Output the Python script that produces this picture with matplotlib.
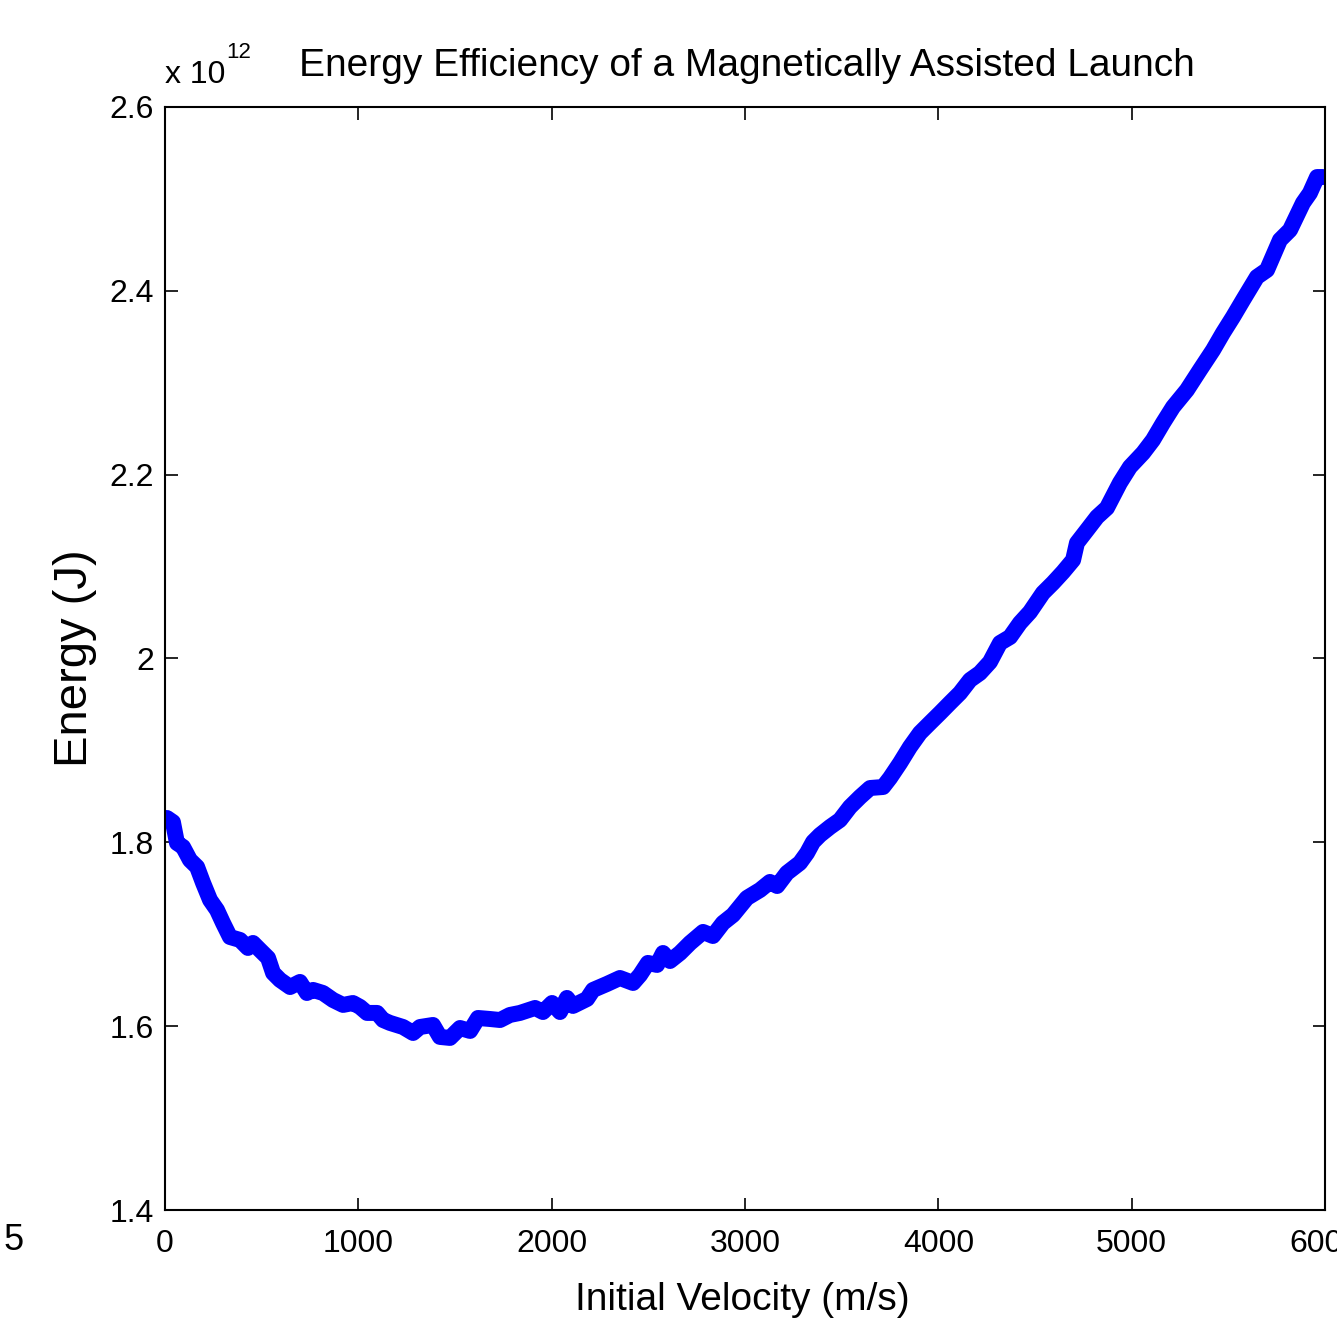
import numpy as np
import matplotlib
matplotlib.use("Agg")
import matplotlib.pyplot as plt

# velocity (m/s) and energy (x 1e12 J)
velocity = [10, 41, 62, 93, 129, 166, 197, 233, 269, 300, 336, 388, 429, 455, 491,
            533, 559, 595, 647, 698, 734, 766, 817, 869, 921, 972, 1009, 1045, 1097,
            1128, 1164, 1231, 1283, 1319, 1386, 1422, 1474, 1526, 1578, 1619, 1681,
            1733, 1784, 1836, 1914, 1955, 2002, 2043, 2079, 2110, 2183, 2214, 2286,
            2353, 2421, 2457, 2498, 2545, 2576, 2612, 2664, 2716, 2783, 2834, 2886,
            2938, 3010, 3078, 3129, 3166, 3217, 3284, 3321, 3352, 3388, 3440, 3491,
            3543, 3595, 3647, 3714, 3750, 3802, 3853, 3905, 3957, 4009, 4060, 4112,
            4164, 4215, 4267, 4319, 4371, 4422, 4474, 4541, 4593, 4645, 4697, 4717,
            4769, 4821, 4872, 4939, 4991, 5059, 5110, 5162, 5214, 5286, 5353, 5421,
            5472, 5524, 5576, 5648, 5700, 5767, 5819, 5886, 5922, 5959, 5990]
energy = [1.8265, 1.822, 1.7993, 1.795, 1.7808, 1.7732, 1.7558, 1.7373, 1.7264, 1.7123,
          1.697, 1.6938, 1.6851, 1.6905, 1.6829, 1.6742, 1.6579, 1.6503, 1.6426, 1.6481,
          1.6361, 1.6394, 1.6361, 1.6285, 1.6231, 1.6252, 1.6209, 1.6144, 1.6144, 1.6067,
          1.6035, 1.5991, 1.5926, 1.5991, 1.6013, 1.5883, 1.5872, 1.598, 1.5948, 1.6089,
          1.6078, 1.6067, 1.6122, 1.6144, 1.6198, 1.6154, 1.6252, 1.6154, 1.6307, 1.622,
          1.6296, 1.6394, 1.6459, 1.6524, 1.647, 1.6557, 1.6688, 1.6666, 1.6796, 1.6709,
          1.6796, 1.6905, 1.7025, 1.6981, 1.7123, 1.721, 1.7395, 1.7482, 1.7569, 1.7525,
          1.7667, 1.7776, 1.7884, 1.8004, 1.808, 1.8167, 1.8243, 1.8385, 1.8493, 1.8591,
          1.8602, 1.87, 1.8863, 1.9037, 1.919, 1.9299, 1.9407, 1.9516, 1.9625, 1.9766,
          1.9842, 1.9962, 2.0169, 2.0234, 2.0386, 2.0506, 2.0713, 2.0822, 2.0941, 2.1072,
          2.1257, 2.1398, 2.154, 2.1638, 2.191, 2.2084, 2.2236, 2.2377, 2.2562, 2.2736,
          2.2921, 2.3139, 2.3356, 2.3541, 2.3715, 2.39, 2.4151, 2.4227, 2.4553, 2.4662,
          2.4956, 2.5064, 2.5238, 2.5238]

xticks = [0, 1000, 2000, 3000, 4000, 5000, 6000]
xticklabels = ["0", "1000", "2000", "3000", "4000", "5000", "6000"]
yticks = [1.4, 1.6, 1.8, 2.0, 2.2, 2.4, 2.6]
yticklabels = ["1.4", "1.6", "1.8", "2", "2.2", "2.4", "2.6"]

plt.rcParams['font.family'] = ["Liberation Sans", "DejaVu Sans"]

fig = plt.figure(figsize=(13.37, 13.29), dpi=100)
ax = fig.add_axes([165/1337, 119/1329, 1160/1337, 1103/1329])

ax.plot(velocity, energy, color="#0000ff", lw=11.5, solid_capstyle="round",
        solid_joinstyle="round")

ax.set_xlim(0, 6000)
ax.set_ylim(1.4, 2.6)
ax.set_xticks(xticks)
ax.set_xticklabels(xticklabels, fontsize=23)
ax.set_yticks(yticks)
ax.set_yticklabels(yticklabels, fontsize=23)
ax.tick_params(direction="in", length=9, width=1.2, top=True, right=True)
ax.tick_params(axis="x", pad=14)
ax.tick_params(axis="y", pad=8)
for s in ax.spines.values():
    s.set_linewidth(1.5)

ax.set_xlabel("Initial Velocity (m/s)", fontsize=28, va="center")
ax.xaxis.set_label_coords(0.498, -0.0816)
ax.set_ylabel("Energy (J)", fontsize=34, va="center")
ax.yaxis.set_label_coords(-0.0776, 0.5)
ax.set_title("Energy Efficiency of a Magnetically Assisted Launch",
             fontsize=28, pad=22, x=0.502)

fig.text(165/1337, 1-75/1329, "x 10", fontsize=23, ha="left", va="center")
fig.text(226/1337, 1-52/1329, "12", fontsize=16, ha="left", va="center")
fig.text(14/1337, 1-1240/1329, "5", fontsize=26, ha="center", va="center")

fig.savefig("out.png", dpi=100)
